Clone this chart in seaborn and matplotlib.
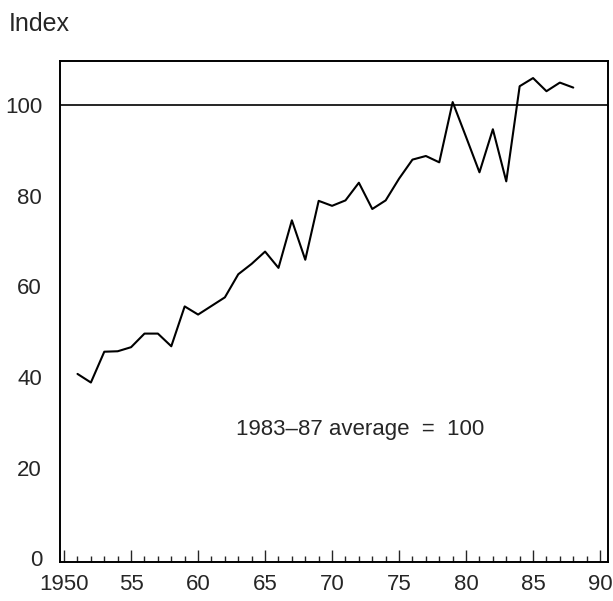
import pandas as pd
import matplotlib.pyplot as plt
import seaborn as sns
from matplotlib.ticker import MultipleLocator

# Index values, 1983-87 average = 100
years = list(range(1951, 1989))
index_values = [40.7, 38.8, 45.6, 45.7, 46.6, 49.6, 49.6, 46.8, 55.6, 53.8,
                55.7, 57.6, 62.7, 65.0, 67.7, 64.1, 74.6, 65.9, 78.9, 77.8,
                79.0, 82.9, 77.1, 79.0, 83.8, 88.0, 88.8, 87.4, 100.7, 93.0,
                85.2, 94.7, 83.2, 104.2, 106.0, 103.1, 105.0, 103.9]
y_ticks = [0, 20, 40, 60, 80, 100]
x_ticks = [1950, 1955, 1960, 1965, 1970, 1975, 1980, 1985, 1990]
x_labels = ["1950", "55", "60", "65", "70", "75", "80", "85", "90"]

df = pd.DataFrame({"year": years, "index": index_values})

sns.set_style("ticks")
plt.rcParams["font.family"] = ["Liberation Sans", "DejaVu Sans"]

fig = plt.figure(figsize=(6.13, 6.01), dpi=100)
ax = fig.add_axes([0.098, 0.065, 0.894, 0.833])

sns.lineplot(data=df, x="year", y="index", color="black", linewidth=1.5, ax=ax)
ax.axhline(100, color="black", linewidth=1.2)

ax.set_xlim(1949.7, 1990.6)
ax.set_ylim(-0.8, 109.7)
ax.set_xticks(x_ticks)
ax.set_xticklabels(x_labels)
ax.xaxis.set_minor_locator(MultipleLocator(1))
ax.set_yticks(y_ticks)
ax.tick_params(axis="x", which="major", direction="in", length=9, width=1, pad=9, labelsize=16)
ax.tick_params(axis="x", which="minor", direction="in", length=4, width=1)
ax.tick_params(axis="y", length=0, pad=13, labelsize=16)
ax.set_xlabel("")
ax.set_ylabel("")

for side in ["left", "right", "top", "bottom"]:
    ax.spines[side].set_visible(True)
    ax.spines[side].set_color("black")
    ax.spines[side].set_linewidth(1.4)

ax.text(1972.1, 28.5, "1983\u201387 average  =  100", ha="center", va="center", fontsize=16)
fig.text(0.015, 0.96, "Index", ha="left", va="center", fontsize=18)

fig.savefig("out.png", dpi=100)
